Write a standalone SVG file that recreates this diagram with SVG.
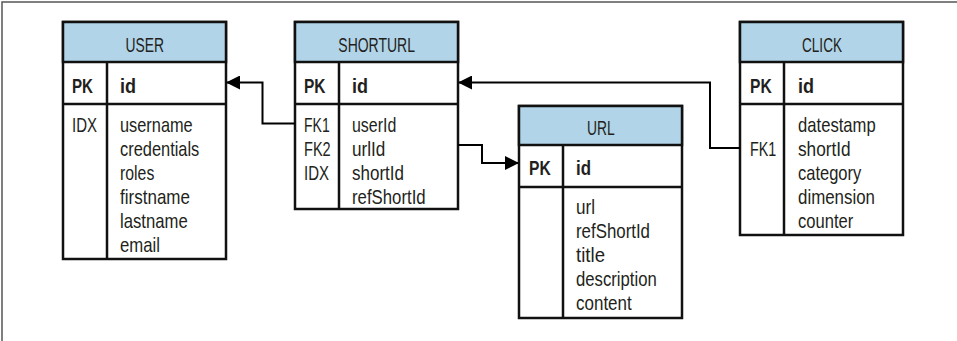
<svg xmlns="http://www.w3.org/2000/svg" width="957" height="341" viewBox="0 0 957 341">
<style>
text{font-family:"Liberation Sans",Arial,sans-serif;font-size:21px;fill:#231f20}
.b{font-weight:bold}
.box{fill:#fff;stroke:#111;stroke-width:2.5}
.hd{fill:#b1d4e8;stroke:#111;stroke-width:2.5}
.ln{stroke:#111;stroke-width:2.5;fill:none}
.cn{stroke:#000;stroke-width:2;fill:none}
</style>
<defs>
<marker id="ar" markerWidth="14" markerHeight="14" refX="13" refY="7" orient="auto" markerUnits="userSpaceOnUse">
<path d="M0,0 L14,7 L0,14 Z" fill="#000"/>
</marker>
</defs>
<rect x="0" y="0" width="957" height="341" fill="#fff"/>
<path d="M2,341 V2 H957" stroke="#555" stroke-width="1.5" fill="none"/>

<g id="user">
<rect class="box" x="63" y="22" width="163" height="237"/>
<rect class="hd" x="63" y="22" width="163" height="40"/>
<path class="ln" d="M63,104 H226 M107,62 V259"/>
<text x="125.5" y="52" textLength="38.5" lengthAdjust="spacingAndGlyphs">USER</text>
<text class="b" x="72" y="93" textLength="21" lengthAdjust="spacingAndGlyphs">PK</text>
<text class="b" x="120" y="93" textLength="16" lengthAdjust="spacingAndGlyphs">id</text>
<text x="72" y="131.5" textLength="25" lengthAdjust="spacingAndGlyphs">IDX</text>
<text x="120" y="131.5" textLength="72.7" lengthAdjust="spacingAndGlyphs">username</text>
<text x="120" y="155.5" textLength="79.3" lengthAdjust="spacingAndGlyphs">credentials</text>
<text x="120" y="179.5" textLength="34.3" lengthAdjust="spacingAndGlyphs">roles</text>
<text x="120" y="203.5" textLength="70" lengthAdjust="spacingAndGlyphs">firstname</text>
<text x="120" y="227.5" textLength="67.7" lengthAdjust="spacingAndGlyphs">lastname</text>
<text x="120" y="251.5" textLength="40" lengthAdjust="spacingAndGlyphs">email</text>
</g>

<g id="shorturl">
<rect class="box" x="295" y="22" width="163" height="187"/>
<rect class="hd" x="295" y="22" width="163" height="40"/>
<path class="ln" d="M295,104 H458 M339,62 V209"/>
<text x="338.3" y="52" textLength="76.7" lengthAdjust="spacingAndGlyphs">SHORTURL</text>
<text class="b" x="304" y="93" textLength="21.5" lengthAdjust="spacingAndGlyphs">PK</text>
<text class="b" x="352" y="93" textLength="16" lengthAdjust="spacingAndGlyphs">id</text>
<text x="304" y="131.5" textLength="25.7" lengthAdjust="spacingAndGlyphs">FK1</text>
<text x="304" y="155.5" textLength="26.7" lengthAdjust="spacingAndGlyphs">FK2</text>
<text x="304" y="179.5" textLength="25" lengthAdjust="spacingAndGlyphs">IDX</text>
<text x="352" y="131.5" textLength="44.3" lengthAdjust="spacingAndGlyphs">userId</text>
<text x="352" y="155.5" textLength="33.3" lengthAdjust="spacingAndGlyphs">urlId</text>
<text x="352" y="179.5" textLength="52" lengthAdjust="spacingAndGlyphs">shortId</text>
<text x="352" y="203.5" textLength="73.7" lengthAdjust="spacingAndGlyphs">refShortId</text>
</g>

<g id="url">
<rect class="box" x="519" y="106" width="163" height="212"/>
<rect class="hd" x="519" y="106" width="163" height="39"/>
<path class="ln" d="M519,187 H682 M563,145 V318"/>
<text x="587" y="135" textLength="27.7" lengthAdjust="spacingAndGlyphs">URL</text>
<text class="b" x="529" y="175" textLength="21.7" lengthAdjust="spacingAndGlyphs">PK</text>
<text class="b" x="576" y="175" textLength="15" lengthAdjust="spacingAndGlyphs">id</text>
<text x="576" y="213.5" textLength="19" lengthAdjust="spacingAndGlyphs">url</text>
<text x="576" y="237.5" textLength="74" lengthAdjust="spacingAndGlyphs">refShortId</text>
<text x="576" y="261.5" textLength="29" lengthAdjust="spacingAndGlyphs">title</text>
<text x="576" y="285.5" textLength="80.7" lengthAdjust="spacingAndGlyphs">description</text>
<text x="576" y="309.5" textLength="55.7" lengthAdjust="spacingAndGlyphs">content</text>
</g>

<g id="click">
<rect class="box" x="740" y="22" width="163" height="213"/>
<rect class="hd" x="740" y="22" width="163" height="40"/>
<path class="ln" d="M740,104 H903 M784,62 V235"/>
<text x="802" y="52" textLength="40" lengthAdjust="spacingAndGlyphs">CLICK</text>
<text class="b" x="750" y="93" textLength="21.7" lengthAdjust="spacingAndGlyphs">PK</text>
<text class="b" x="798" y="93" textLength="16" lengthAdjust="spacingAndGlyphs">id</text>
<text x="750" y="156" textLength="26.3" lengthAdjust="spacingAndGlyphs">FK1</text>
<text x="798" y="131.5" textLength="77.7" lengthAdjust="spacingAndGlyphs">datestamp</text>
<text x="798" y="155.5" textLength="52.7" lengthAdjust="spacingAndGlyphs">shortId</text>
<text x="798" y="179.5" textLength="63.3" lengthAdjust="spacingAndGlyphs">category</text>
<text x="798" y="203.5" textLength="77" lengthAdjust="spacingAndGlyphs">dimension</text>
<text x="798" y="227.5" textLength="55.3" lengthAdjust="spacingAndGlyphs">counter</text>
</g>

<g id="connectors">
<path class="cn" d="M295,123.5 H262.5 V82.5 H227" marker-end="url(#ar)"/>
<path class="cn" d="M458,145 H482 V163 H518" marker-end="url(#ar)"/>
<path class="cn" d="M740,148 H710 V82.5 H459" marker-end="url(#ar)"/>
</g>
</svg>
